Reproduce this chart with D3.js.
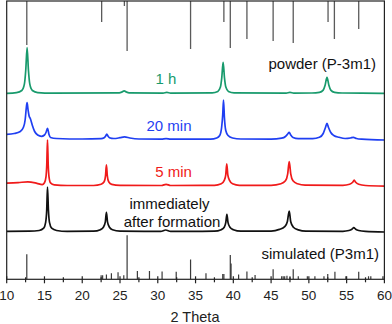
<!DOCTYPE html>
<html>
<head>
<meta charset="utf-8">
<script src="https://cdn.jsdelivr.net/npm/d3@7"></script>
<style>
  body { margin: 0; background: #fff; }
  text { font-family: "Liberation Sans", Arial, sans-serif; }
</style>
</head>
<body>
<div id="canvas"></div>
<script>
"use strict"

// 2 Theta range and ticks
let thetaRange = [10, 60];
let majorTicks = [10, 15, 20, 25, 30, 35, 40, 45, 50, 55, 60];
let minorTicks = [12.5, 17.5, 22.5, 27.5, 32.5, 37.5, 42.5, 47.5, 52.5, 57.5];

// measured patterns: [2theta, intensity above own baseline] (a.u.)
let immediate = [[10,0.3],[13,0.5],[14.3,1.2],[14.9,3.5],[15.15,9],[15.3,22],[15.4,44.7],[15.52,22],[15.67,9],[15.95,3.5],[16.6,1.2],[18,0.3],
  [21.5,0.5],[22.4,2],[22.8,4.5],[23.05,9.5],[23.2,19.4],[23.35,9.5],[23.6,4.5],[24,2],[25,0.6],[30.4,0.3],[31.05,1.7],[31.7,0.3],
  [37.5,0.5],[38.4,2],[38.8,4.5],[39,9],[39.15,17.4],[39.3,9],[39.55,4.5],[40,2],[41,0.5],[45,0.6],[46.1,2.3],[46.8,5],[47.15,10],
  [47.4,20.7],[47.6,10],[47.95,4.5],[48.6,1.8],[49.6,0.5],[54.5,0.4],[55.3,1.2],[55.7,2.5],[55.95,4],[56.2,2.5],[56.6,1.2],[57.5,0.3],[60,-0.3]];

let min5 = [[10,2.7],[11.5,3.2],[12.8,4],[14,2.5],[14.7,1.2],[15,3],[15.2,9],[15.3,20],[15.4,46],[15.5,20],[15.6,9],[15.8,3],[16.3,1],[18,0.3],
  [21.5,0.3],[22.5,1.5],[22.9,4],[23.08,10],[23.2,21],[23.32,10],[23.5,4],[23.9,1.5],[25,0.5],[30.5,0.3],[31.1,1.5],[31.7,0.3],
  [37.5,0.5],[38.4,2],[38.8,5.5],[39,11],[39.13,22],[39.27,11],[39.5,5.5],[39.9,2],[40.8,0.5],[45,0.5],[46.3,2],[46.9,5],[47.2,12],
  [47.4,24.3],[47.6,12],[47.9,5],[48.5,2],[49.5,0.6],[54.5,0.4],[55.4,1.5],[55.8,3.5],[56,5.7],[56.2,3.5],[56.6,1.5],[57.5,0.3],[60,-0.3]];

let min20 = [[10,5.2],[11,6],[11.8,8],[12.2,12],[12.45,20],[12.6,32],[12.7,36.8],[12.82,30],[12.95,24],[13.15,20.5],[13.4,14],[13.7,8],
  [14.1,4.5],[14.6,3.2],[15,4.5],[15.2,7],[15.4,11.2],[15.6,5],[15.8,2],[16.6,1],[20,0.5],[22.5,0.8],[22.9,1.8],[23.1,3.5],[23.25,5.5],
  [23.4,3.5],[23.6,1.8],[24.2,1],[25,1.8],[25.6,2.6],[26.3,1.5],[27.5,0.5],[30.5,0.3],[31.1,0.9],[31.7,0.3],[37,0.3],[37.8,1.5],
  [38.2,4],[38.45,12],[38.6,25],[38.7,39.5],[38.82,22],[39,9],[39.3,4],[39.9,1.5],[41,0.5],[45,0.3],[46.4,1.3],[46.9,3],[47.2,5.5],
  [47.4,7.2],[47.6,4.5],[47.9,2],[48.6,0.8],[50.5,0.8],[51.4,2.2],[51.9,6],[52.2,12],[52.4,16.2],[52.6,12],[52.9,7],[53.3,4],
  [54,2.2],[54.8,1],[55.5,1.5],[55.9,2.2],[56.3,1],[57,0.3],[60,-0.5]];

let hour1 = [[10,0],[11.3,0.7],[12,2.8],[12.34,9.1],[12.52,22.8],[12.7,45.6],[12.88,22.8],[13.06,9.1],[13.4,2.8],[14.1,0.7],[16,0.2],
  [24.9,0.5],[25.25,1.3],[25.55,2.5],[25.85,1.3],[26.2,0.5],[30.7,0.2],[31.2,1],[31.7,0.2],[37.2,0.5],[37.95,1.9],[38.29,6.2],
  [38.47,15.5],[38.65,31],[38.83,15.5],[39.01,6.2],[39.35,1.9],[40.1,0.5],[47,0.2],[47.5,1],[48,0.2],[50.4,0.3],[51.4,1],[51.9,3.2],
  [52.15,8],[52.4,16],[52.65,8],[52.9,3.2],[53.4,1],[54.4,0.3],[60,0]];

let seriesNames = ["immediately after formation", "5 min", "20 min", "1 h"];
let seriesColors = ["#111111", "#f01a1a", "#1f3ff2", "#189a6c"];
let seriesOffsets = [47.6, 93.5, 139.8, 186];

// reference sticks: [2theta, relative intensity]
let powderRef = [[12.66,88],[22.57,42],[25.58,10],[25.94,100],[34.34,96],[38.75,42],[39.6,94],[41.8,76],
  [45.27,80],[47.93,84],[52.54,42],[53.38,76],[56.6,56]];
let simulatedRef = [[12.66,57],[22.5,9],[22.7,9],[23.2,11],[23.86,14],[24.74,16],[25.5,9],[25.94,100],[27.3,19],
  [28.9,19],[30.57,18],[32.44,17],[34.34,45],[36.38,14],[38.6,12],[38.75,12],[39.6,55],[39.7,36],[40.7,11],
  [41.8,18],[42.88,10],[45.27,23],[46.4,7],[46.6,7],[46.8,7],[47.1,8],[47.5,7],[47.93,23],[48.6,7],[49.8,7],
  [50.8,7],[52,7],[52.5,12],[53.45,17],[54.9,7],[56.6,17],[57.9,7],[58.2,7],[59.8,7]];

let drawingWidth = 392;
let drawingHeight = 324;
let plotLeft = 6.7, plotRight = 384.4, plotTop = 1, plotBottom = 279.3;

let drawing = d3.select("#canvas")
    .append("svg")
    .attr("width", drawingWidth)
    .attr("height", drawingHeight);

let x = d3.scaleLinear().domain(thetaRange).range([plotLeft, plotRight]);
let y = d3.scaleLinear().domain([0, plotBottom - plotTop]).range([plotBottom, plotTop]);
let stickTop = d3.scaleLinear().domain([0, 100]).range([plotTop, plotTop + 50]);
let stickBottom = d3.scaleLinear().domain([0, 100]).range([plotBottom, plotBottom - 44]);

drawing.append("clipPath").attr("id", "plotClip")
  .append("rect").attr("x", plotLeft).attr("y", plotTop)
  .attr("width", plotRight - plotLeft).attr("height", plotBottom - plotTop);

let plot = drawing.append("g").attr("clip-path", "url(#plotClip)");

// powder reference, hanging from the top
plot.selectAll(".pw").data(powderRef).enter().append("line")
  .attr("x1", d => x(d[0])).attr("x2", d => x(d[0]))
  .attr("y1", plotTop).attr("y2", d => stickTop(d[1]))
  .attr("stroke", "#5a5a5a").attr("stroke-width", 1.3);

// simulated sticks from the axis
plot.selectAll(".sim").data(simulatedRef).enter().append("line")
  .attr("x1", d => x(d[0])).attr("x2", d => x(d[0]))
  .attr("y1", plotBottom).attr("y2", d => stickBottom(d[1]))
  .attr("stroke", "#3a3a3a").attr("stroke-width", 1.2);

let patterns = [immediate, min5, min20, hour1];
patterns.forEach(function(p, i) {
  let line = d3.line()
    .x(d => x(d[0]))
    .y(d => y(d[1] + seriesOffsets[i]))
    .curve(d3.curveMonotoneX);
  plot.append("path")
    .attr("d", line(p))
    .attr("fill", "none")
    .attr("stroke", seriesColors[i])
    .attr("stroke-width", 1.7)
    .attr("stroke-linejoin", "round");
});

// frame
drawing.append("rect")
  .attr("x", plotLeft).attr("y", plotTop)
  .attr("width", plotRight - plotLeft).attr("height", plotBottom - plotTop)
  .attr("fill", "none").attr("stroke", "#222").attr("stroke-width", 1.2);

// x ticks crossing the axis
drawing.selectAll(".maj").data(majorTicks).enter().append("line")
  .attr("x1", d => x(d)).attr("x2", d => x(d))
  .attr("y1", plotBottom - 3).attr("y2", plotBottom + 4)
  .attr("stroke", "#222").attr("stroke-width", 1.2);
drawing.selectAll(".min").data(minorTicks).enter().append("line")
  .attr("x1", d => x(d)).attr("x2", d => x(d))
  .attr("y1", plotBottom - 2).attr("y2", plotBottom + 3)
  .attr("stroke", "#222").attr("stroke-width", 1.2);

drawing.selectAll(".tl").data(majorTicks).enter().append("text")
  .attr("x", d => x(d)).attr("y", plotBottom + 20.5)
  .attr("text-anchor", "middle")
  .attr("font-size", 13.5)
  .attr("fill", "#222")
  .text(d => d);

drawing.append("text")
  .attr("x", 195).attr("y", 322)
  .attr("text-anchor", "middle").attr("font-size", 14.5).attr("fill", "#222")
  .text("2 Theta");

// labels
function label(tx, ty, txt, color, anchor) {
  drawing.append("text")
    .attr("x", tx).attr("y", ty)
    .attr("text-anchor", anchor)
    .attr("font-size", 15)
    .attr("fill", color)
    .text(txt);
}
label(376, 68.5, "powder (P-3m1)", "#111", "end");
label(166, 83.5, "1 h", seriesColors[3], "middle");
label(169, 130.5, "20 min", seriesColors[2], "middle");
label(173.5, 176.5, "5 min", seriesColors[1], "middle");
label(169.5, 209, "immediately", "#111", "middle");
label(172, 227, "after formation", "#111", "middle");
label(379, 258.5, "simulated (P3m1)", "#111", "end");
</script>
</body>
</html>
